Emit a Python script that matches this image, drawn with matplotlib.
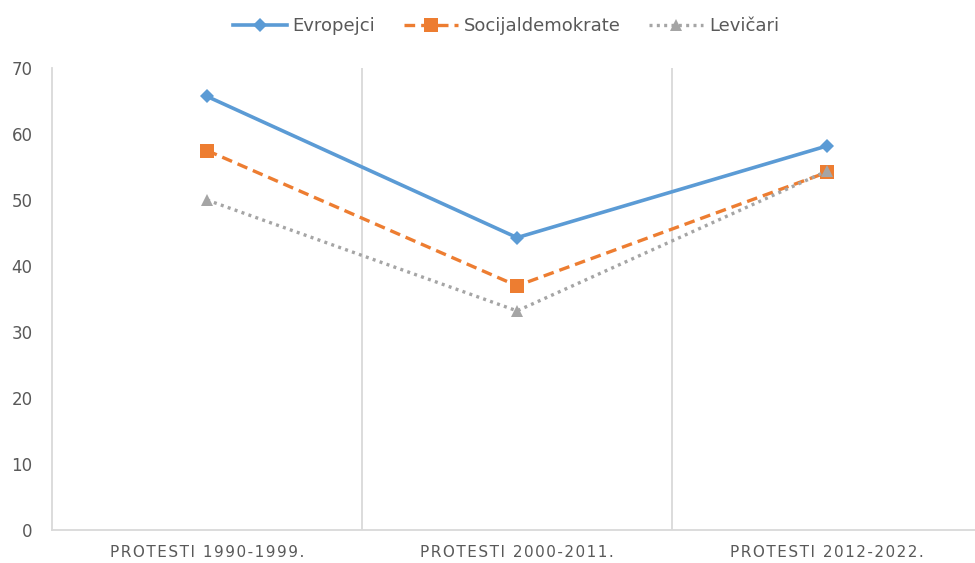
"""Protest periods: share by political orientation."""

import matplotlib.pyplot as plt
import numpy as np

CATEGORIES = ["PROTESTI 1990-1999.", "PROTESTI 2000-2011.", "PROTESTI 2012-2022."]
SERIES = ["Evropejci", "Socijaldemokrate", "Levičari"]
EVROPEJCI = [65.7, 44.3, 58.2]
SOCIJALDEMOKRATE = [57.5, 37.0, 54.2]
LEVICARI = [50.0, 33.2, 54.4]
Y_TICKS = [0, 10, 20, 30, 40, 50, 60, 70]

STYLES = [
    dict(color="#5B9BD5", linestyle="-", marker="D", markersize=7.5, linewidth=2.6),
    dict(color="#ED7D31", linestyle=(0, (3.2, 1.8)), marker="s", markersize=10, linewidth=2.4),
    dict(color="#A5A5A5", linestyle=(0, (0.9, 1.3)), marker="^", markersize=9, linewidth=2.4),
]
TEXT_COLOR = "#595959"
GRID_COLOR = "#D9D9D9"


def spaced(label: str) -> str:
    return "\u200a".join(label)


def main() -> None:
    fig = plt.figure(figsize=(9.75, 5.63), dpi=100)
    ax = fig.add_axes([0.0533, 0.0586, 0.954, 0.8206])
    x = np.arange(len(CATEGORIES))

    for name, values, style in zip(SERIES, [EVROPEJCI, SOCIJALDEMOKRATE, LEVICARI], STYLES):
        ax.plot(x, values, label=name, markeredgewidth=0, **style)

    ax.set_xlim(-0.5, len(CATEGORIES) - 0.5)
    ax.set_ylim(0, 70)
    ax.set_yticks(Y_TICKS)
    ax.set_xticks(x, [spaced(c) for c in CATEGORIES])
    for boundary in x[:-1] + 0.5:
        ax.axvline(boundary, color=GRID_COLOR, linewidth=1.3, zorder=0)

    for side in ["top", "right"]:
        ax.spines[side].set_visible(False)
    for side in ["left", "bottom"]:
        ax.spines[side].set_color(GRID_COLOR)
        ax.spines[side].set_linewidth(1.3)
    ax.tick_params(axis="both", length=0, colors=TEXT_COLOR, labelsize=12)
    ax.tick_params(axis="y", pad=14)
    ax.tick_params(axis="x", pad=11, labelsize=11)

    ax.legend(
        loc="upper center",
        bbox_to_anchor=(0.488, 1.145),
        ncol=3,
        frameon=False,
        fontsize=13,
        labelcolor=TEXT_COLOR,
        handlelength=3.0,
        columnspacing=1.6,
        handletextpad=0.3,
    )
    fig.savefig("out.png", dpi=100)


if __name__ == "__main__":
    main()
